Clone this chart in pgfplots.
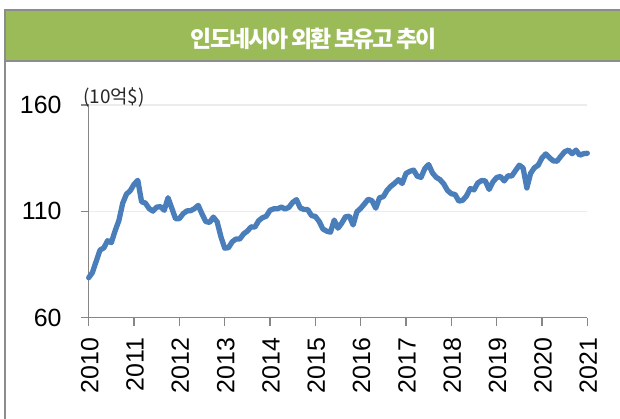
\documentclass[border=0pt]{standalone}
\usepackage{pgfplots}
\pgfplotsset{compat=1.18}
\usepackage{pgfplotstable}
\usepackage{fontspec}
\setmainfont{Liberation Sans}
\newfontfamily\kr{Noto Sans CJK KR}
\definecolor{bandgreen}{RGB}{155,187,89}
\definecolor{linblue}{RGB}{74,126,187}
\definecolor{framegray}{RGB}{140,140,140}
\definecolor{axisgray}{RGB}{134,134,134}
\definecolor{gridgray}{RGB}{236,236,236}
\pgfplotstableread{
i v
0 78.8
1 81.3
2 86.6
3 91.8
4 92.8
5 96.2
6 95.3
7 100.9
8 105.7
9 113.8
10 118.1
11 119.7
12 122.7
13 124.6
14 114.5
15 113.9
16 111.3
17 110.1
18 112.0
19 112.2
20 110.5
21 116.4
22 111.5
23 106.5
24 106.6
25 108.9
26 110.2
27 110.3
28 111.3
29 112.8
30 108.8
31 105.2
32 104.8
33 107.3
34 105.1
35 98.1
36 92.7
37 92.9
38 95.7
39 97.0
40 97.0
41 99.4
42 100.7
43 102.7
44 102.6
45 105.6
46 107.0
47 107.7
48 110.5
49 111.2
50 111.2
51 112.0
52 111.1
53 111.9
54 114.2
55 115.5
56 111.6
57 110.9
58 110.8
59 108.0
60 107.6
61 105.3
62 101.7
63 100.7
64 100.2
65 105.9
66 102.1
67 104.5
68 107.5
69 107.7
70 103.6
71 109.8
72 111.4
73 113.5
74 115.7
75 115.0
76 111.5
77 116.4
78 116.9
79 119.9
80 121.8
81 123.2
82 124.9
83 123.1
84 127.8
85 128.8
86 129.4
87 126.5
88 126.0
89 130.2
90 132.0
91 128.1
92 126.0
93 124.9
94 122.9
95 119.8
96 118.3
97 117.9
98 114.8
99 115.2
100 117.2
101 120.7
102 120.1
103 123.3
104 124.5
105 124.3
106 120.3
107 123.8
108 125.9
109 126.4
110 124.3
111 126.7
112 126.6
113 129.2
114 131.7
115 130.4
116 121.0
117 127.9
118 130.5
119 131.7
120 135.1
121 137.0
122 135.2
123 133.7
124 133.6
125 135.9
126 138.0
127 138.8
128 137.1
129 138.8
130 136.4
131 137.1
132 137.3
}\reserves
\begin{document}
\begin{tikzpicture}
\useasboundingbox (0bp,0bp) rectangle (620bp,419bp);
\fill[white] (0bp,0bp) rectangle (620bp,419bp);
\fill[bandgreen] (5bp,358bp) rectangle (620bp,409bp);
\draw[framegray, line width=1.2bp] (5bp,358bp) -- (620bp,358bp);
\draw[framegray, line width=1.2bp] (620bp,409bp) -- (5bp,409bp) -- (5bp,0bp);
\node[white, font={\kr\bfseries\fontsize{23}{26}\selectfont\addfontfeatures{LetterSpace=-9}}] at (314bp,380bp) {인도네시아 외환 보유고 추이};
\begin{axis}[
  at={(88.7bp,101.3bp)}, anchor=south west,
  scale only axis, width=498.6bp, height=212.7bp,
  xmin=0, xmax=132, ymin=60, ymax=160,
  axis x line=bottom, axis y line=left,
  axis line style={axisgray, line width=1.3bp, -},
  xtick={0,12,...,132},
  xticklabels={2010,2011,2012,2013,2014,2015,2016,2017,2018,2019,2020,2021},
  ytick={60,110,160},
  tick align=outside, major tick length=8bp,
  tick style={axisgray, line width=1.3bp},
  ymajorgrids, grid style={gridgray, line width=1.5bp},
  /pgf/number format/assume math mode=true,
  xticklabel style={font=\fontsize{25}{28}\selectfont, rotate=90, anchor=east, inner sep=0pt, xshift=-12bp, yshift=-1bp},
  yticklabel style={font=\fontsize{25}{28}\selectfont, anchor=east, inner sep=0pt, xshift=-19bp},
  clip=false,
]
\addplot[linblue, line width=5.3bp, line join=round, line cap=round] table[x=i, y=v] {\reserves};
\end{axis}
\node[font={\kr\fontsize{19}{21}\selectfont}, text=black!85] at (114bp,322bp) {(10억\$)};
\end{tikzpicture}
\end{document}
